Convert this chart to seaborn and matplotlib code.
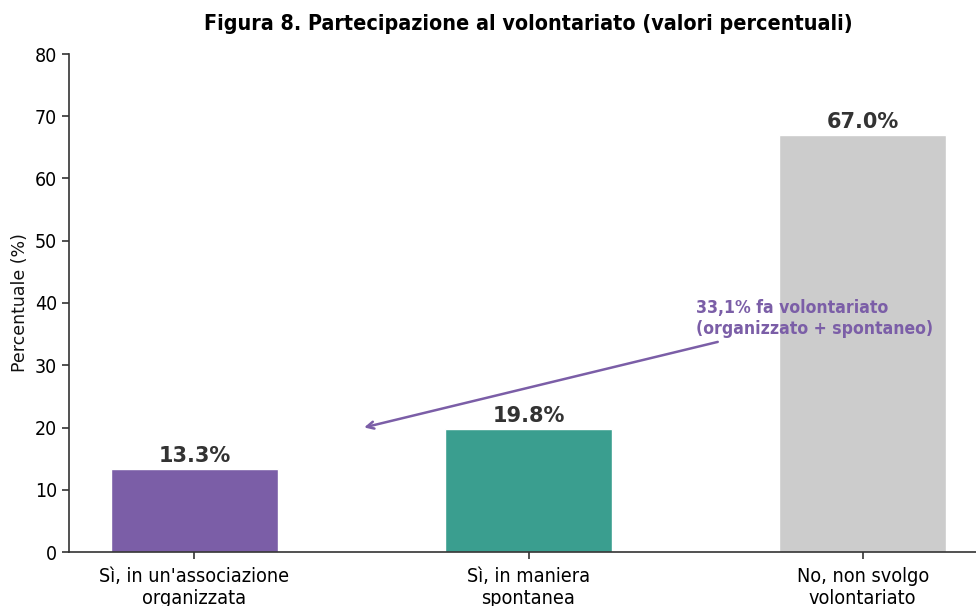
import matplotlib
matplotlib.use("Agg")
import matplotlib.pyplot as plt
import seaborn as sns
import pandas as pd

categories = ["Sì, in un'associazione\norganizzata", "Sì, in maniera\nspontanea", "No, non svolgo\nvolontariato"]
values = [13.3, 19.8, 67.0]
colors = ["#7b5ea7", "#3a9e8f", "#cccccc"]
yticks = [0, 10, 20, 30, 40, 50, 60, 70, 80]
title = "Figura 8. Partecipazione al volontariato (valori percentuali)"
ylabel = "Percentuale (%)"
annot_text = "33,1% fa volontariato\n(organizzato + spontaneo)"

sns.set_style("ticks")
plt.rcParams['font.family'] = ['DejaVu Sans']

df = pd.DataFrame({"cat": categories, "val": values})

fig = plt.figure(figsize=(9.76, 6.06), dpi=100)
W, H = 976, 606
ax = fig.add_axes([69 / W, (H - 552) / H, (988 - 69) / W, (552 - 54) / H])

sns.barplot(data=df, x="cat", y="val", hue="cat", palette=colors, legend=False,
            width=0.5, ax=ax, saturation=1)

ax.set_xlim(-0.375, 2.375)
ax.set_ylim(0, 80)
ax.set_yticks(yticks)
ax.set_xlabel("")
ax.set_ylabel(ylabel, fontsize=12.5, color="#111111")

for lab in ax.get_xticklabels() + ax.get_yticklabels():
    lab.set_fontstretch("condensed")
    lab.set_fontsize(14)
    lab.set_color("black")
for lab in ax.get_xticklabels():
    lab.set_fontsize(14.2)

for i, v in enumerate(values):
    ax.text(i, v + 0.45, f"{v:.1f}%", ha="center", va="bottom",
            fontsize=15, fontweight="bold", color="#333333")

ax.annotate(annot_text, xy=(0.5, 19.9), xytext=(1.5, 37.5),
            ha="left", va="center", fontsize=12.6, fontweight="bold",
            color="#7b5ea7", fontstretch="condensed",
            arrowprops=dict(arrowstyle="->", color="#7b5ea7", lw=1.8))

ax.set_title(title, fontsize=15.4, fontweight="bold", fontstretch="condensed",
             pad=17, color="black")

sns.despine(ax=ax)
for s in ["left", "bottom"]:
    ax.spines[s].set_linewidth(1.2)
    ax.spines[s].set_color("#333333")
ax.tick_params(width=1.2, length=5, color="#333333", labelcolor="black")
ax.tick_params(axis="x", pad=6)

fig.savefig("out.png", dpi=100)
